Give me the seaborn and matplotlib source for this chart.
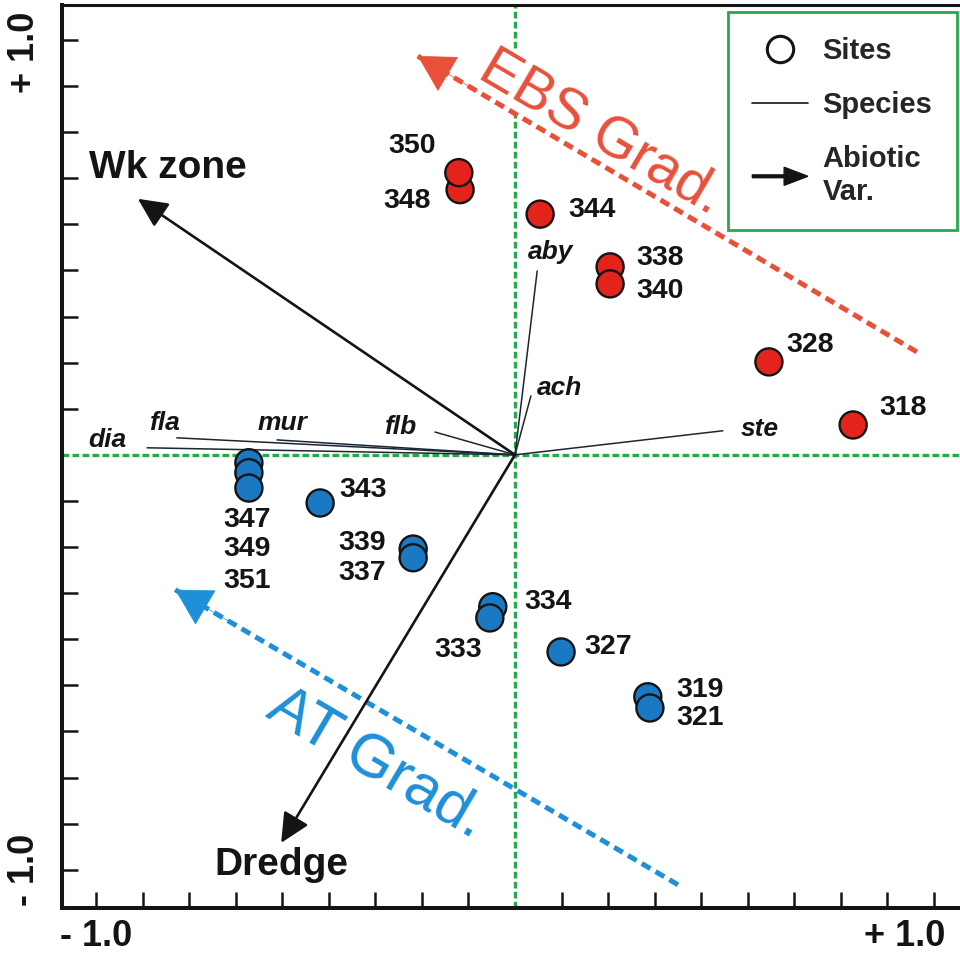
import pandas as pd
import matplotlib.pyplot as plt
import seaborn as sns
from matplotlib.lines import Line2D
from matplotlib.patches import FancyArrow
from matplotlib.legend_handler import HandlerPatch

# sites (CCA scores)
site_ids = ['348', '350', '344', '338', '340', '328', '318',
            '347', '349', '351', '343', '339', '337', '334', '333', '327', '319', '321']
site_x = [-0.131, -0.134, 0.060, 0.227, 0.227, 0.606, 0.807,
          -0.635, -0.635, -0.635, -0.465, -0.243, -0.243, -0.053, -0.060, 0.110, 0.317, 0.322]
site_y = [0.639, 0.680, 0.580, 0.453, 0.412, 0.224, 0.072,
          -0.019, -0.043, -0.080, -0.116, -0.227, -0.248, -0.366, -0.393, -0.475, -0.583, -0.610]
site_group = ['EBS'] * 7 + ['AT'] * 11

# species
species = ['aby', 'ach', 'ste', 'flb', 'mur', 'fla', 'dia']
species_x = [0.053, 0.038, 0.496, -0.191, -0.568, -0.807, -0.878]
species_y = [0.443, 0.142, 0.058, 0.055, 0.036, 0.041, 0.017]

# abiotic variables
env_vars = ['Wk zone', 'Dredge']
env_x = [-0.900, -0.558]
env_y = [0.617, -0.935]

# gradient arrows (start -> end)
grad_names = ['EBS Grad.', 'AT Grad.']
grad_x0 = [0.959, 0.389]
grad_y0 = [0.248, -1.036]
grad_x1 = [-0.232, -0.811]
grad_y1 = [0.961, -0.325]

df = pd.DataFrame({'site': site_ids, 'x': site_x, 'y': site_y, 'group': site_group})

# label offsets in pixels
site_off = {'350': (-47, 27), '348': (-53, -11), '344': (52, 4), '338': (50, 9), '340': (50, -7),
            '328': (41, 17), '318': (50, 17), '347': (-2, -57), '349': (-2, -76), '351': (-2, -93),
            '343': (43, 13), '339': (-51, 6), '337': (-51, -15), '334': (55, 5), '333': (-32, -32),
            '327': (47, 5), '319': (52, 7), '321': (50, -10)}
spec_off = {'aby': (13, 19), 'ach': (29, 8), 'ste': (37, 2), 'flb': (-35, 5),
            'mur': (6, 17), 'fla': (-12, 15), 'dia': (-40, 8)}
env_off = {'Wk zone': (30, 31), 'Dredge': (0, -22)}
grad_text = {'EBS Grad.': (0.205, 0.775), 'AT Grad.': (-0.330, -0.745)}
grad_size = {'EBS Grad.': 41, 'AT Grad.': 44}
grad_col = {'EBS Grad.': '#e8503a', 'AT Grad.': '#1e8fd8'}

sns.set_theme(style='white')
plt.rcParams['font.family'] = ['Liberation Sans', 'DejaVu Sans']

ink = '#141414'
green = '#27a84a'

fig = plt.figure(figsize=(9.6, 9.6), dpi=100)
ax = fig.add_axes([62 / 960, 52 / 960, 898 / 960, 903 / 960])
ax.set_xlim(-1.081, 1.062)
ax.set_ylim(-1.092, 1.084)

ax.axhline(0, color=green, lw=2.4, ls=(0, (2.0, 1.0)), zorder=1)
ax.axvline(0, color=green, lw=2.4, ls=(0, (2.0, 1.0)), zorder=1)

# gradients
for n, x0, y0, x1, y1 in zip(grad_names, grad_x0, grad_y0, grad_x1, grad_y1):
    ax.plot([x0, x1], [y0, y1], color=grad_col[n], lw=3.6, ls=(0, (2.0, 1.2)), zorder=3)
    ax.annotate('', xy=(x1, y1), xytext=(x1 + 0.12 * (x0 - x1), y1 + 0.12 * (y0 - y1)),
                arrowprops=dict(arrowstyle='-|>,head_length=0.82,head_width=0.46', mutation_scale=30,
                                lw=0.5, color=grad_col[n], shrinkA=0, shrinkB=0), zorder=3)
    tx, ty = grad_text[n]
    ax.text(tx, ty, n, rotation=-30.5, ha='center', va='center', fontsize=grad_size[n],
            color=grad_col[n], rotation_mode='anchor', zorder=2,
            bbox=dict(facecolor='white', edgecolor='none', pad=1) if n == 'EBS Grad.' else None)

# species
for s, x, y in zip(species, species_x, species_y):
    ax.plot([0, x], [0, y], color='#1c2633', lw=1.1, zorder=4)
    ax.annotate(s, (x, y), xytext=spec_off[s], textcoords='offset pixels', ha='center', va='center',
                fontsize=19, fontweight='bold', fontstyle='italic', color=ink, zorder=6)

# abiotic variables
for v, x, y in zip(env_vars, env_x, env_y):
    ax.annotate('', xy=(x, y), xytext=(0, 0),
                arrowprops=dict(arrowstyle='-|>,head_length=0.75,head_width=0.36', mutation_scale=24,
                                lw=1.9, color=ink, shrinkA=0, shrinkB=0), zorder=4)
    ax.annotate(v, (x, y), xytext=env_off[v], textcoords='offset pixels', ha='center', va='center',
                fontsize=28, fontweight='bold', color=ink, zorder=6)

# sites
sns.scatterplot(data=df, x='x', y='y', hue='group', palette={'EBS': '#e3231c', 'AT': '#1b79c4'},
                s=380, edgecolor=ink, linewidth=1.7, legend=False, ax=ax, zorder=5)
for sid, x, y in zip(site_ids, site_x, site_y):
    ax.annotate(sid, (x, y), xytext=site_off[sid], textcoords='offset pixels', ha='center', va='center',
                fontsize=20.5, fontweight='bold', color=ink, zorder=6)

# axes styling
ticks = [k / 9 for k in range(-9, 10) if k != 0]
ax.set_xticks(ticks)
ax.set_yticks(ticks)
ax.set_xticklabels([])
ax.set_yticklabels([])
ax.tick_params(direction='in', length=11.5, width=1.8, color=ink, bottom=True, left=True)
ax.set_xlabel('')
ax.set_ylabel('')
for side in ['left', 'bottom']:
    ax.spines[side].set_linewidth(2.9)
    ax.spines[side].set_color(ink)
ax.spines['top'].set_linewidth(2.2)
ax.spines['top'].set_color(ink)
ax.spines['right'].set_visible(False)

lab = dict(fontsize=26, fontweight='bold', color=ink, ha='center', va='center', textcoords='offset pixels')
ax.annotate('- 1.0', xy=(-1, 0), xycoords=('data', 'axes fraction'), xytext=(0, -29), **lab)
ax.annotate('+ 1.0', xy=(1, 0), xycoords=('data', 'axes fraction'), xytext=(-29, -29), **lab)
ax.annotate('+ 1.0', xy=(0, 1), xycoords=('axes fraction', 'data'), xytext=(-38, -12), rotation=90, **lab)
ax.annotate('- 1.0', xy=(0, -1), xycoords=('axes fraction', 'data'), xytext=(-38, 0), rotation=90, **lab)


def make_arrow(legend, orig_handle, xdescent, ydescent, width, height, fontsize):
    return FancyArrow(0, height / 2, width, 0, width=2.0, head_width=13, head_length=17,
                      length_includes_head=True, color=ink)


h_site = Line2D([], [], marker='o', ls='none', mfc='none', mec=ink, mew=2.2, ms=19)
h_spec = Line2D([], [], color=ink, lw=1.2)
h_arrow = FancyArrow(0, 0, 1, 0, color=ink)
leg = ax.legend([h_site, h_spec, h_arrow], ['Sites', 'Species', 'Abiotic\nVar.'],
                handler_map={FancyArrow: HandlerPatch(patch_func=make_arrow)},
                loc='upper right', bbox_to_anchor=(957 / 960, 948 / 960), bbox_transform=fig.transFigure,
                borderaxespad=0, frameon=True, fancybox=False, framealpha=1, edgecolor=green,
                prop={'weight': 'bold', 'size': 21}, handlelength=1.9, handletextpad=0.5,
                labelspacing=0.9, borderpad=0.85)
leg.get_frame().set_linewidth(2)
leg.set_zorder(7)

plt.savefig('out.png', dpi=100)
